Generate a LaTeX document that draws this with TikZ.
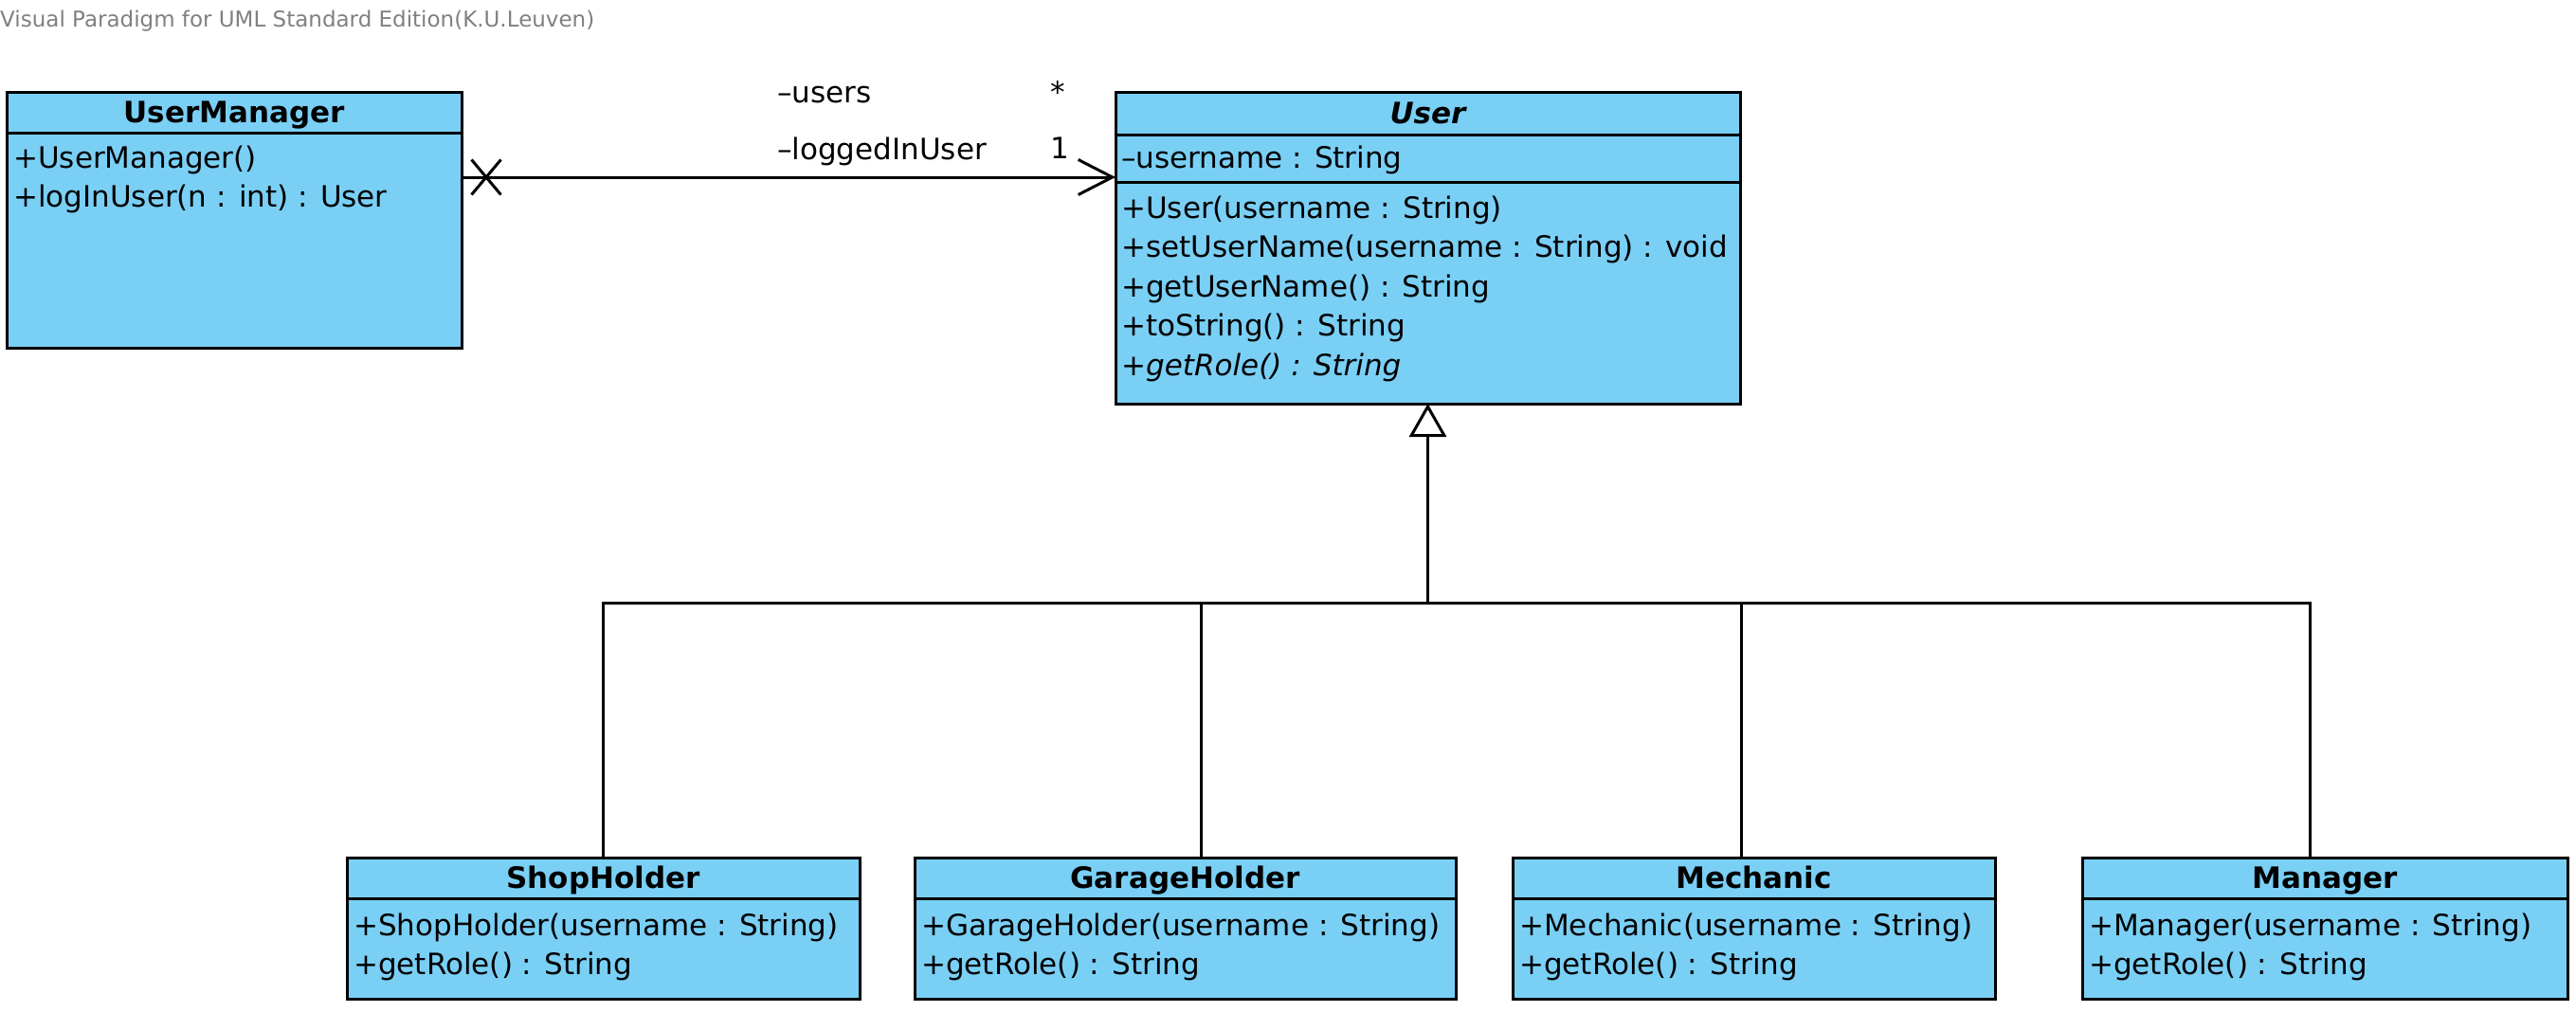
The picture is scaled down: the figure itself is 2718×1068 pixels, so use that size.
\documentclass[tikz,border=0pt]{standalone}
\usepackage{fontspec}
\setmainfont{DejaVu Sans}
\usetikzlibrary{positioning,arrows.meta,shapes.misc}
\definecolor{classfill}{RGB}{122,207,245}
\definecolor{vpgray}{RGB}{128,128,128}
\newcommand{\umlsize}{\fontsize{31pt}{42pt}\selectfont}

\begin{document}
\begin{tikzpicture}[x=1pt,y=-1pt,
  classbox/.style={draw,fill=classfill,line width=3pt,outer sep=0pt,inner sep=0pt,anchor=north west},
  classname/.style={classbox,minimum height=43pt,text height=22pt,text depth=0pt,font=\umlsize\bfseries},
  member/.style={anchor=base west,inner sep=0pt,font=\umlsize},
  conn/.style={line width=3pt}]
\useasboundingbox (0,0) rectangle (2718,1068);
\node[anchor=base west,inner sep=0pt,text=vpgray,font=\fontsize{23pt}{26pt}\selectfont] (vptitle) at (0,28) {Visual Paradigm for UML Standard Edition(K.U.Leuven)};

% UserManager
\node[classname,minimum width=480pt] (umhead) at (7,97) {UserManager};
\node[classbox,minimum width=480pt,minimum height=227pt,below=0pt of umhead] (umbody) {};
\node[member] (umop1) at ([xshift=7pt,yshift=-37pt]umbody.north west) {+UserManager()};
\node[member] (umop2) at ([yshift=-41.6pt]umop1.base west) {+logInUser(n : int) : User};

% User
\node[classname,minimum width=659pt,minimum height=45pt,font=\umlsize\bfseries\itshape] (userhead) at (1177,97) {User};
\node[classbox,minimum width=659pt,minimum height=50pt,below=0pt of userhead] (userattr) {};
\node[classbox,minimum width=659pt,minimum height=234pt,below=0pt of userattr] (userops) {};
\node[member] (userat1) at ([xshift=6pt,yshift=-35pt]userattr.north west) {--username : String};
\node[member] (userop1) at ([xshift=6pt,yshift=-38pt]userops.north west) {+User(username : String)};
\node[member] (userop2) at ([yshift=-41.6pt]userop1.base west) {+setUserName(username : String) : void};
\node[member] (userop3) at ([yshift=-41.6pt]userop2.base west) {+getUserName() : String};
\node[member] (userop4) at ([yshift=-41.6pt]userop3.base west) {+toString() : String};
\node[member,font=\umlsize\itshape] (userop5) at ([yshift=-41.6pt]userop4.base west) {+getRole() : String};

% subclasses
\foreach \cls/\nm/\xl/\w in {shop/ShopHolder/366/541, garage/GarageHolder/965/571, mech/Mechanic/1596/509, mgr/Manager/2197/512} {
  \node[classname,minimum width=\w pt] (\cls) at (\xl,905) {\nm};
  \node[classbox,minimum width=\w pt,minimum height=106pt,below=0pt of \cls] (\cls-body) {};
  \node[member] (\cls-op1) at ([xshift=7pt,yshift=-39pt]\cls-body.north west) {+\nm(username : String)};
  \node[member] (\cls-op2) at ([yshift=-41.6pt]\cls-op1.base west) {+getRole() : String};
}

% association
\node[cross out,draw,line width=3pt,minimum width=28pt,minimum height=34pt,inner sep=0pt] (nav) at (513,187) {};
\draw[conn,-{Straight Barb[length=36pt,width=37pt]}] (nav -| umbody.east) -- (nav -| userhead.west);
\node[member] (roleusers) at (820,108) {--users};
\node[member] (multusers) at (1108,108) {*};
\node[member] (rolelogged) at (820,168) {--loggedInUser};
\node[member] (multlogged) at (1108,167) {1};

% generalization
\coordinate (bar) at (1506,636);
\draw[conn,-{Triangle[open,length=35pt,width=39pt]}] (bar -| userops.south) -- (userops.south);
\draw[conn] (shop.north) |- (bar);
\draw[conn] ([xshift=16.5pt]garage.north) |- (bar);
\draw[conn] ([xshift=-13.5pt]mech.north) |- (bar);
\draw[conn] ([xshift=-16pt]mgr.north) |- (bar);
\end{tikzpicture}
\end{document}
